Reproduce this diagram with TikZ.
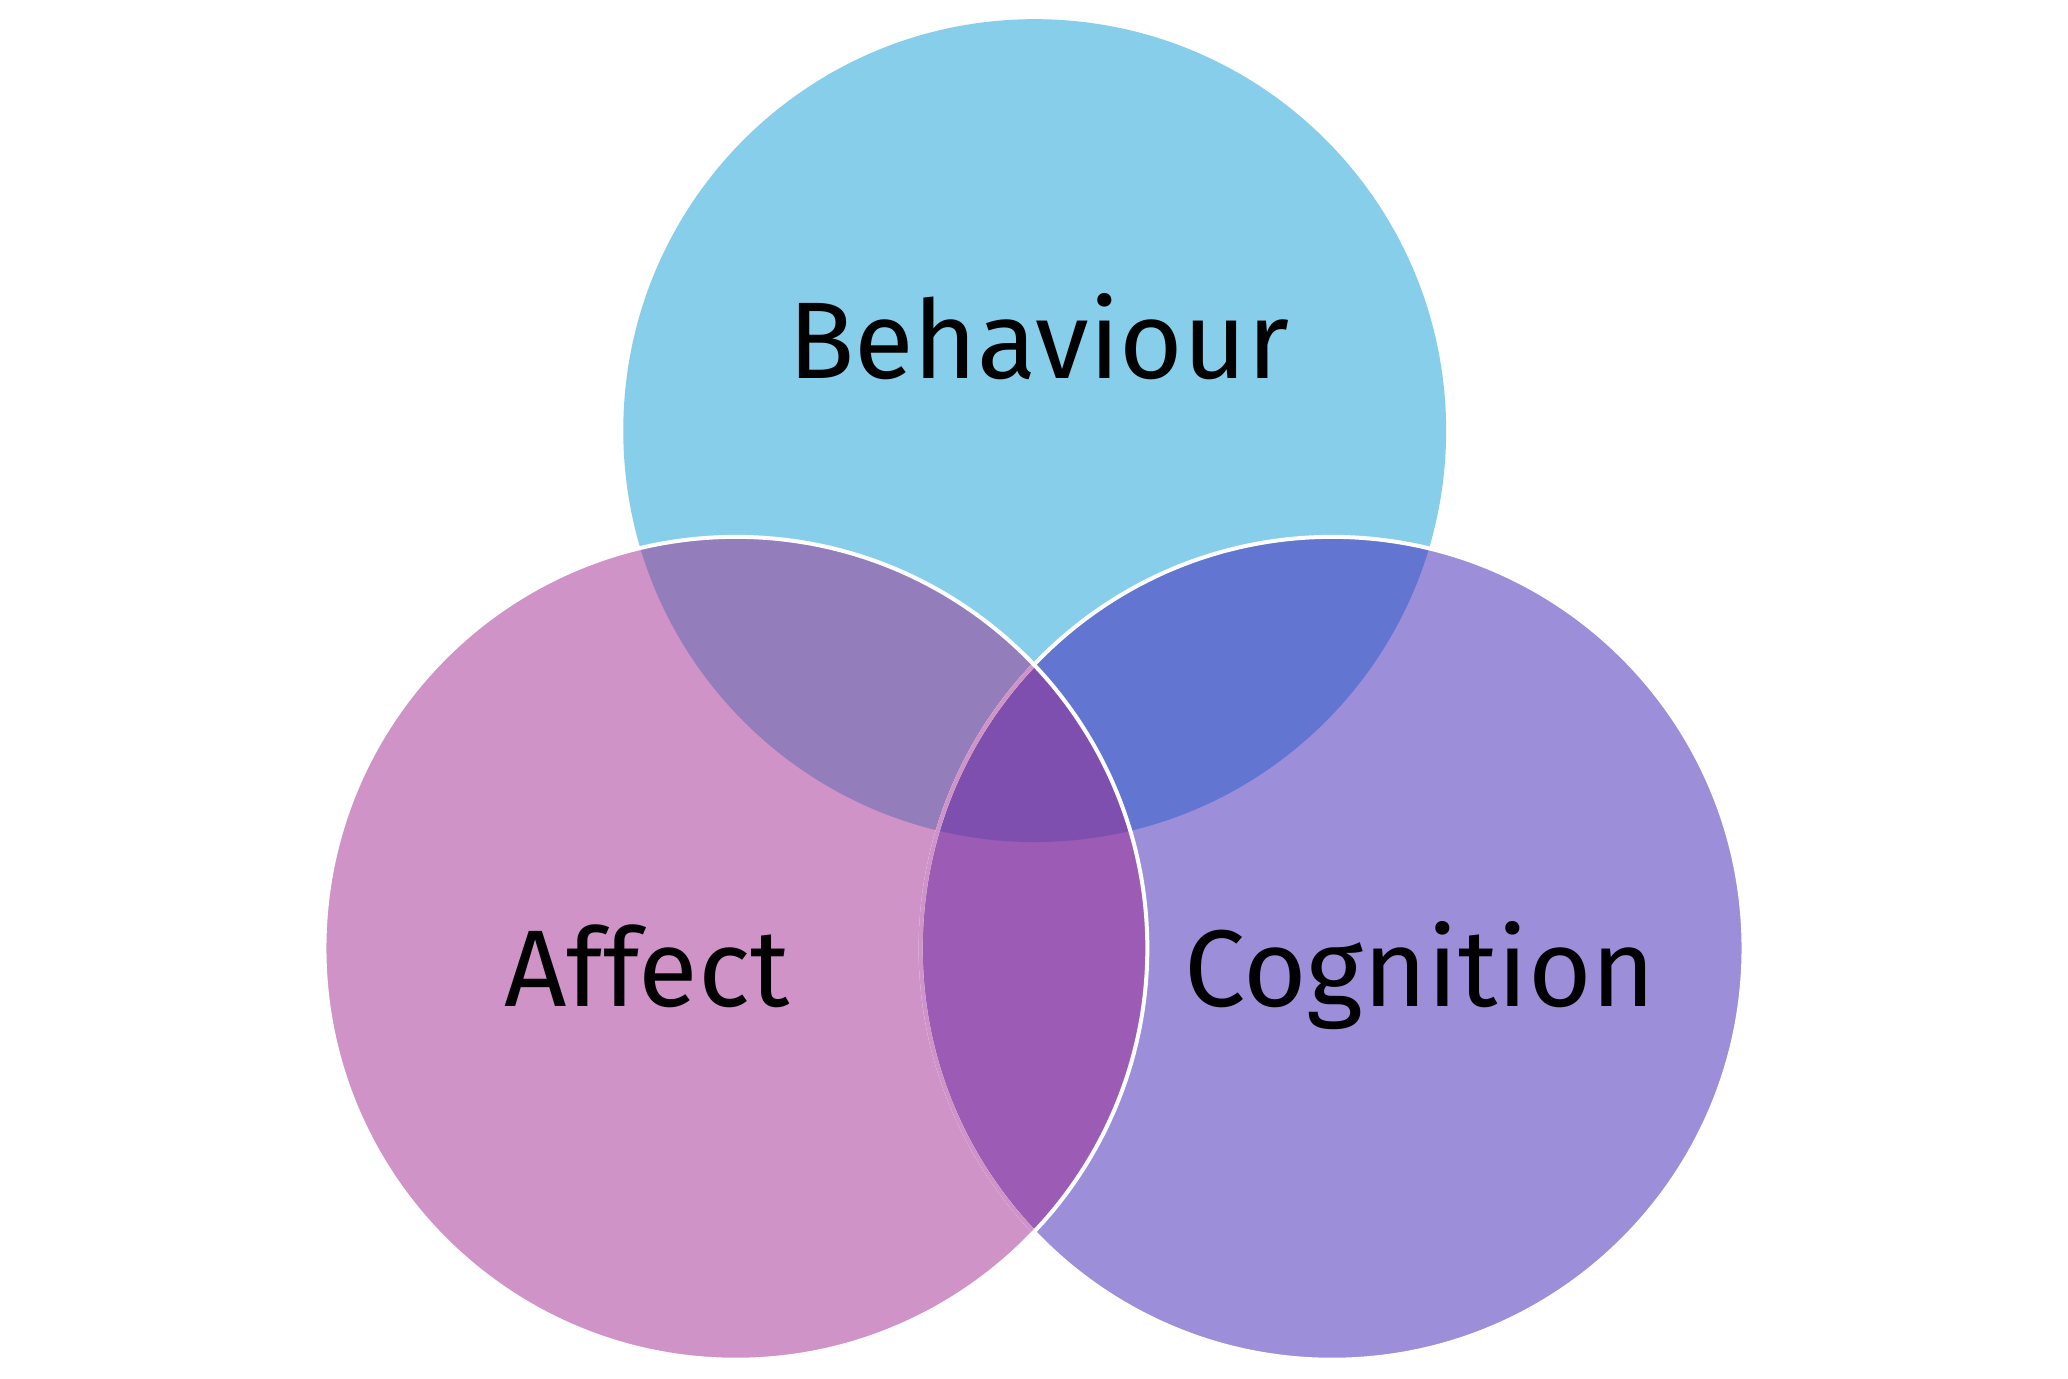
\documentclass[tikz,border=0pt]{standalone}
\usepackage{fontspec}
\setmainfont{Fira Sans}
\definecolor{cTop}{HTML}{87CEEA}
\definecolor{cLeft}{HTML}{CF93C8}
\definecolor{cRight}{HTML}{9D8EDA}
\definecolor{cTL}{HTML}{937DBB}
\definecolor{cTR}{HTML}{6275D0}
\definecolor{cLR}{HTML}{9C5BB4}
\definecolor{cAll}{HTML}{7F4FB0}
\tikzset{
  border/.style={draw=white, line width=0.04cm},
  lbl/.style={anchor=base, font=\fontsize{31}{36}\selectfont, text=black, inner sep=0pt}
}
\begin{document}
\begin{tikzpicture}[x=0.01cm, y=-0.01cm]
\useasboundingbox[fill=white] (0,0) rectangle (2068,1379);
\coordinate (T) at (1034.7,430.6);
\coordinate (L) at (735.9,948.3);
\coordinate (R) at (1332.1,948.3);
\def\rr{4.112cm}
% single regions
\fill[cTop] (T) circle[radius=\rr];
\fill[cRight] (R) circle[radius=\rr];
\fill[cLeft] (L) circle[radius=\rr];
% pairwise overlaps
\begin{scope}
  \clip (T) circle[radius=\rr];
  \fill[cTL] (L) circle[radius=\rr];
  \fill[cTR] (R) circle[radius=\rr];
\end{scope}
\begin{scope}
  \clip (L) circle[radius=\rr];
  \fill[cLR] (R) circle[radius=\rr];
  \clip (T) circle[radius=\rr];
  \fill[cAll] (R) circle[radius=\rr];
\end{scope}
% borders
\draw[border] (R) circle[radius=\rr];
\begin{scope}
  \clip (L) circle[radius=\rr];
  \draw[cLeft, line width=0.04cm] (R) circle[radius=\rr];
\end{scope}
\draw[border] (L) circle[radius=\rr];
% labels
\node[lbl] (beh) at (1038.6,378.5) {Behaviour};
\node[lbl] (aff) at (647,1006) {Affect};
\node[lbl] (cog) at (1420,1006) {Cognition};
\end{tikzpicture}
\end{document}
